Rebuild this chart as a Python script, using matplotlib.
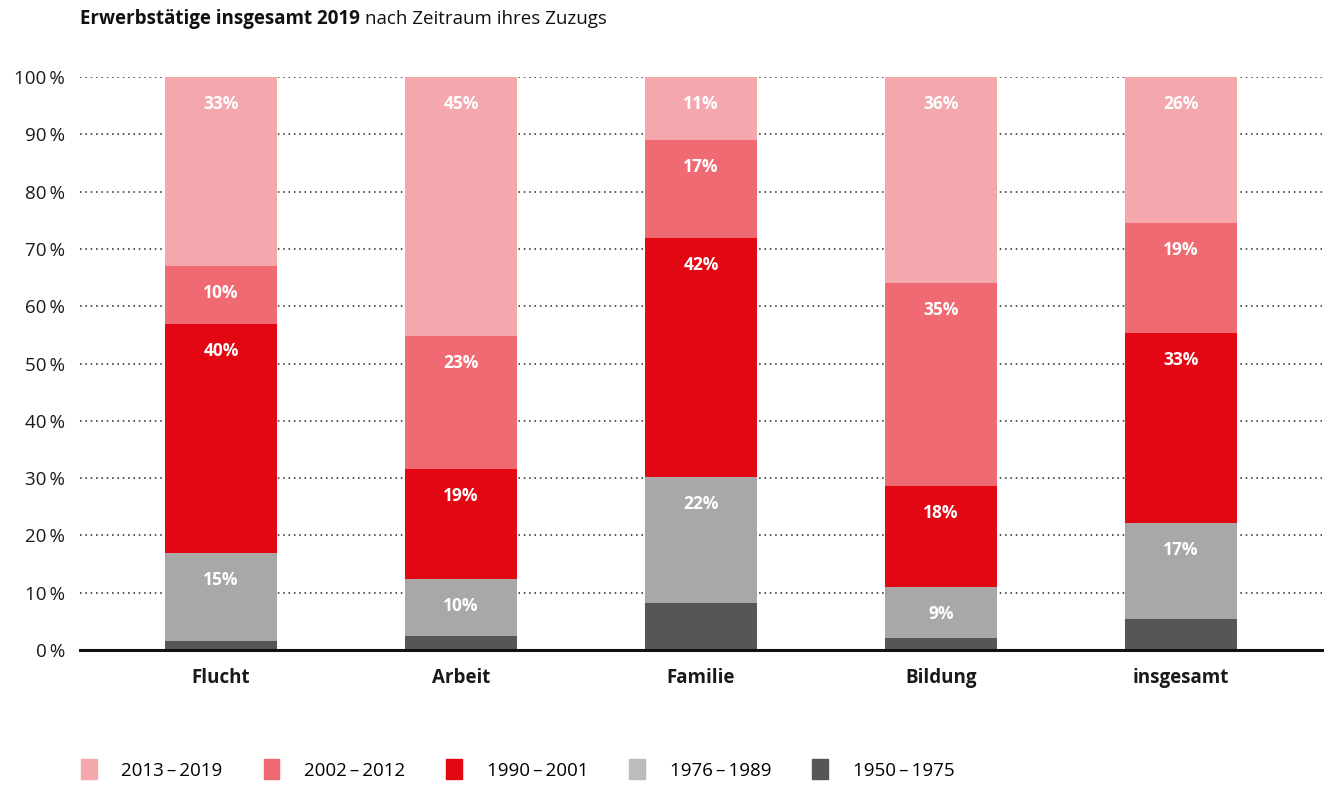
import matplotlib.pyplot as plt
import numpy as np

plt.rcParams['font.family'] = ['Open Sans', 'DejaVu Sans']

categories = ['Flucht', 'Arbeit', 'Familie', 'Bildung', 'insgesamt']
periods = ['2013\u2009–\u20092019', '2002\u2009–\u20092012', '1990\u2009–\u20092001',
           '1976\u2009–\u20091989', '1950\u2009–\u20091975']

# shares from bottom to top
p1950 = [1.6, 2.4, 8.2, 2.1, 5.4]
p1976 = [15.3, 10.0, 22.0, 8.9, 16.8]
p1990 = [40.0, 19.2, 41.7, 17.6, 33.1]
p2002 = [10.1, 23.2, 17.1, 35.4, 19.2]
p2013 = [33.0, 45.2, 11.0, 36.0, 25.5]

labels_1976 = ['15%', '10%', '22%', '9%', '17%']
labels_1990 = ['40%', '19%', '42%', '18%', '33%']
labels_2002 = ['10%', '23%', '17%', '35%', '19%']
labels_2013 = ['33%', '45%', '11%', '36%', '26%']

bar_cols = ['#575655', '#a8a8a7', '#e30613', '#ef6a72', '#f4a7ad']
legend_cols = ['#f4a7ad', '#ef6a72', '#e30613', '#bcbcbc', '#575655']

fig = plt.figure(figsize=(13.3, 7.87), dpi=100)
ax = fig.add_axes([0.0602, 0.174, 0.9338, 0.728])

x = np.arange(len(categories))
series = [p1950, p1976, p1990, p2002, p2013]
lbls = [None, labels_1976, labels_1990, labels_2002, labels_2013]
bottom = np.zeros(len(categories))
for vals, col, lab in zip(series, bar_cols, lbls):
    ax.bar(x, vals, bottom=bottom, width=0.467, color=col, zorder=3)
    top = bottom + np.array(vals)
    if lab is not None:
        for xi, t, s in zip(x, top, lab):
            ax.annotate(s, (xi, t), xytext=(0, -19.4), textcoords='offset points',
                        ha='center', va='center', color='white',
                        fontsize=12.5, fontweight='bold', zorder=4)
    bottom = top

ax.set_xlim(-0.5875, 4.5875)
ax.set_ylim(0, 100)
ax.set_yticks(np.arange(0, 101, 10))
ax.set_yticklabels([f'{v}\u2009%' for v in range(0, 101, 10)])
ax.yaxis.grid(True, linestyle=(0, (1, 2.5)), color='#222222', linewidth=1.1, zorder=0)
ax.set_xticks(x)
ax.set_xticklabels(categories, fontweight='bold')
ax.tick_params(axis='both', length=0, labelsize=13.5, colors='#1a1a1a')
ax.tick_params(axis='y', pad=11)
ax.tick_params(axis='x', pad=13)
for sp in ['top', 'right', 'left']:
    ax.spines[sp].set_visible(False)
ax.spines['bottom'].set_linewidth(2.2)
ax.spines['bottom'].set_zorder(5)
ax.spines['bottom'].set_color('#111111')

# title: bold part followed by regular part
t1 = fig.text(0.0602, 0.976, 'Erwerbstätige insgesamt 2019', fontsize=13.5,
              fontweight='bold', va='center', ha='left', color='#111111')
fig.canvas.draw()
bb = t1.get_window_extent()
fig.text((bb.x1 + 5) / fig.bbox.width, 0.976, 'nach Zeitraum ihres Zuzugs',
         fontsize=13.5, va='center', ha='left', color='#111111')

# legend
handles = [plt.Rectangle((0, 0), 1, 1, color=c) for c in legend_cols]
fig.legend(handles, periods, loc='lower left', bbox_to_anchor=(0.048, -0.012),
           ncol=5, frameon=False, fontsize=13.5, handlelength=0.85, handleheight=1.25,
           handletextpad=1.3, columnspacing=2.2)

fig.savefig('out.png', dpi=100)
